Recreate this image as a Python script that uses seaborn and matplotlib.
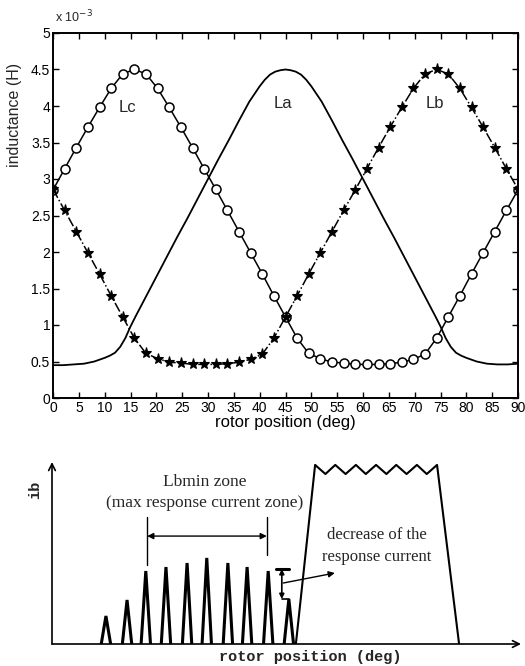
import numpy as np
import pandas as pd
import matplotlib
matplotlib.use("Agg")
import matplotlib.pyplot as plt
import seaborn as sns

# ---------------- data (top panel) ----------------
pos_samples = [i * 2.25 for i in range(41)]
Lc_vals = [2.85, 3.14, 3.43, 3.71, 3.98, 4.24, 4.44, 4.50, 4.44, 4.24,
           3.98, 3.71, 3.43, 3.14, 2.86, 2.57, 2.28, 1.99, 1.70, 1.40,
           1.11, 0.82, 0.61, 0.54, 0.49, 0.48, 0.46, 0.46, 0.46, 0.47,
           0.49, 0.53, 0.60, 0.82, 1.11, 1.40, 1.70, 1.99, 2.28, 2.57, 2.85]
Lb_vals = [2.86, 2.57, 2.28, 1.99, 1.70, 1.40, 1.11, 0.82, 0.61, 0.54,
           0.49, 0.48, 0.46, 0.46, 0.46, 0.47, 0.49, 0.53, 0.60, 0.82,
           1.11, 1.40, 1.70, 1.99, 2.28, 2.57, 2.85, 3.14, 3.43, 3.71,
           3.98, 4.24, 4.44, 4.50, 4.44, 4.24, 3.98, 3.71, 3.43, 3.14, 2.86]
La_pos = [0, 2, 4, 6, 8, 10, 11, 12, 13, 14, 15, 16, 18, 20, 22, 24, 26, 28,
          30, 32, 34, 36, 38, 40, 41, 42, 43, 44, 45,
          46, 47, 48, 49, 50, 52, 54, 56, 58, 60, 62, 64, 66, 68, 70, 72,
          74, 75, 76, 77, 78, 79, 80, 82, 84, 86, 88, 90]
La_vals = [0.45, 0.45, 0.46, 0.47, 0.50, 0.55, 0.58, 0.62, 0.70, 0.82, 0.98,
           1.12, 1.39, 1.66, 1.93, 2.20, 2.46, 2.73, 3.00, 3.27, 3.53, 3.80,
           4.06, 4.27, 4.36, 4.43, 4.47, 4.49, 4.50,
           4.49, 4.47, 4.43, 4.36, 4.27, 4.06, 3.80, 3.53, 3.27, 3.00, 2.73,
           2.46, 2.20, 1.93, 1.66, 1.39, 1.12, 0.98, 0.82, 0.70, 0.62, 0.58,
           0.55, 0.50, 0.47, 0.46, 0.46, 0.47]
x_ticks = list(range(0, 95, 5))
y_ticks = [0, 0.5, 1, 1.5, 2, 2.5, 3, 3.5, 4, 4.5, 5]
y_ticklabels = ["0", "0.5", "1", "1.5", "2", "2.5", "3", "3.5", "4", "4.5", "5"]

# ---------------- data (bottom schematic) ----------------
pulse_centers = [11.5, 16.0, 20.0, 24.3, 28.8, 33.0, 37.5, 41.6, 46.1, 50.5]
pulse_heights = [0.154, 0.242, 0.401, 0.423, 0.445, 0.473, 0.445, 0.423, 0.401, 0.247]
pulse_halfwidth = 1.0
plateau_x = [52.0, 56.1, 58.3, 60.4, 62.6, 64.8, 66.9, 69.1, 71.3, 73.4,
             75.6, 77.8, 79.9, 82.1, 86.8]
plateau_y = [0.0, 0.984, 0.934, 0.984, 0.934, 0.984, 0.934, 0.984, 0.934,
             0.984, 0.934, 0.984, 0.934, 0.984, 0.0]

sns.set_theme(style="ticks")
plt.rcParams['font.family'] = ['Liberation Sans', 'DejaVu Sans']

fig = plt.figure(figsize=(5.25, 6.66), dpi=100)

# ---------------- top panel ----------------
ax = fig.add_axes([53 / 525, (666 - 398) / 666, (518 - 53) / 525, (398 - 33) / 666])
df_a = pd.DataFrame({"pos": La_pos, "L": np.array(La_vals) * 1e-3})
df_c = pd.DataFrame({"pos": pos_samples, "L": np.array(Lc_vals) * 1e-3})
df_b = pd.DataFrame({"pos": pos_samples, "L": np.array(Lb_vals) * 1e-3})

sns.lineplot(data=df_a, x="pos", y="L", ax=ax, color="black", lw=1.3)
sns.lineplot(data=df_c, x="pos", y="L", ax=ax, color="black", lw=1.1,
             marker="o", markersize=6.5, markerfacecolor="white",
             markeredgecolor="black", markeredgewidth=1.1)
ax.lines[-1].set_linestyle("-")
sns.lineplot(data=df_b, x="pos", y="L", ax=ax, color="black", lw=1.1,
             marker="*", markersize=8, markerfacecolor="black",
             markeredgecolor="black", markeredgewidth=0.8)
ax.lines[-1].set_linestyle("-.")

ax.set_xlim(0, 90)
ax.set_ylim(0, 5e-3)
ax.set_xticks(x_ticks)
ax.set_xticklabels([str(t) for t in x_ticks])
ax.set_yticks(np.array(y_ticks) * 1e-3)
ax.set_yticklabels(y_ticklabels)
ax.tick_params(direction="in", length=4, width=1.0, top=True, right=True,
               labelsize=10, pad=2, colors="black")
for s in ax.spines.values():
    s.set_visible(True)
    s.set_linewidth(1.4)
    s.set_color("black")
ax.set_xlabel("rotor position (deg)", fontsize=12, labelpad=0, color="black")
ax.set_ylabel("")
fig.text(14 / 525, 1 - 115 / 666, "inductance (H)", rotation=90, ha="center",
         va="center", fontsize=11.5)
fig.text(55 / 525, 1 - 22 / 666, r"x 10$^{-3}$", ha="left", va="baseline",
         fontsize=9)
ax.text(14.5, 3.98e-3, "Lc", fontsize=12, ha="center", va="center")
ax.text(44.5, 4.04e-3, "La", fontsize=12, ha="center", va="center")
ax.text(73.9, 4.04e-3, "Lb", fontsize=12, ha="center", va="center")

# ---------------- bottom schematic ----------------
bx = fig.add_axes([52 / 525, (666 - 644) / 666, (521 - 52) / 525, (644 - 462) / 666])
bx.set_xlim(0, 100)
bx.set_ylim(0, 1)
bx.axis("off")

pxs, pys = [], []
for c, h in zip(pulse_centers, pulse_heights):
    pxs += [c - pulse_halfwidth, c, c + pulse_halfwidth, np.nan]
    pys += [0, h, 0, np.nan]
bx.plot(pxs, pys, color="black", lw=2.2, solid_joinstyle="miter")
bx.plot(plateau_x, plateau_y, color="black", lw=1.5)

# axes arrows
bx.annotate("", xy=(1.0, 0), xytext=(0, 0), xycoords="axes fraction",
            arrowprops=dict(arrowstyle="->", lw=1.2, color="black",
                            shrinkA=0, shrinkB=0))
bx.annotate("", xy=(0, 1.0), xytext=(0, 0), xycoords="axes fraction",
            arrowprops=dict(arrowstyle="->", lw=1.2, color="black",
                            shrinkA=0, shrinkB=0))

# Lbmin zone markers
bx.plot([20.3, 20.3], [0.434, 0.698], color="black", lw=1.0)
bx.plot([45.8, 45.8], [0.489, 0.698], color="black", lw=1.0)
bx.annotate("", xy=(20.3, 0.593), xytext=(45.8, 0.593),
            arrowprops=dict(arrowstyle="<|-|>", lw=1.0, color="black",
                            shrinkA=0, shrinkB=0, mutation_scale=9))
serif = ['Liberation Serif', 'DejaVu Serif']
bx.text(32.6, 0.89, "Lbmin zone", ha="center", va="center", fontsize=12.5,
        family=serif)
bx.text(32.6, 0.775, "(max response current zone)", ha="center", va="center",
        fontsize=12.5, family=serif)

# decrease marker
bx.plot([47.8, 50.5], [0.412, 0.412], color="black", lw=2.2)
bx.plot([49.0, 50.5], [0.247, 0.247], color="black", lw=1.2)
bx.annotate("", xy=(49.0, 0.412), xytext=(49.0, 0.247),
            arrowprops=dict(arrowstyle="<|-|>", lw=1.2, color="black",
                            shrinkA=0, shrinkB=0, mutation_scale=7))
bx.annotate("", xy=(60.3, 0.39), xytext=(49.3, 0.335),
            arrowprops=dict(arrowstyle="-|>", lw=1.0, color="black",
                            shrinkA=0, shrinkB=0, mutation_scale=9))
bx.text(69.3, 0.599, "decrease of the", ha="center", va="center",
        fontsize=12, family=serif)
bx.text(69.3, 0.478, "response current", ha="center", va="center",
        fontsize=12, family=serif)

mono = ['Liberation Mono', 'DejaVu Sans Mono']
fig.text(35 / 525, 1 - 490 / 666, "ib", rotation=90, ha="center", va="center",
         fontsize=11, family=mono, weight="bold")
fig.text(310 / 525, 1 - 657 / 666, "rotor position (deg)", ha="center",
         va="center", fontsize=11, family=mono, weight="bold")

fig.savefig("out.png", dpi=100)
